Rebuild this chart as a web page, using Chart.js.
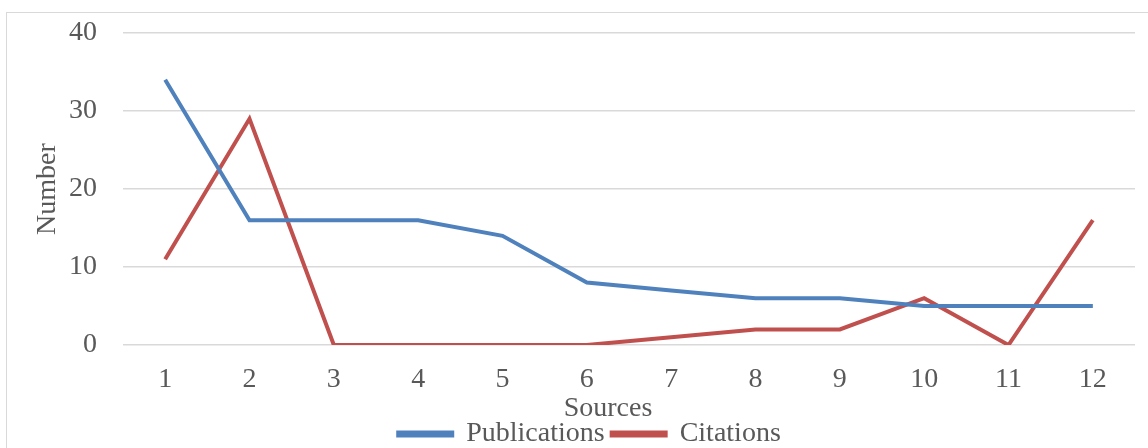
<!DOCTYPE html>
<html><head><meta charset="utf-8">
<script src="https://cdn.jsdelivr.net/npm/chart.js@4.4.1/dist/chart.umd.min.js"></script>
<style>
html,body{margin:0;padding:0;background:#fff;overflow:hidden;}
#frame{position:absolute;left:6px;top:12px;width:1160px;height:460px;border:1.5px solid #d9d9d9;box-sizing:border-box;}
#wrap{position:absolute;left:0;top:0;width:1148px;height:448px;}
</style></head>
<body>
<div id="frame"></div>
<div id="wrap"><canvas id="c"></canvas></div>
<script>
const categories = ['1','2','3','4','5','6','7','8','9','10','11','12'];
const publications = [34,16,16,16,14,8,7,6,6,5,5,5];
const citations = [11,29,0,0,0,0,1,2,2,6,0,16];
const yTicks = [0,10,20,30,40];

const font = {family:'"Liberation Serif", "Times New Roman", serif', size:28, lineHeight:1};
const txt = '#595959';
const tweaks = {
  id:'tweaks',
  afterLayout(chart){ if(chart.legend){ chart.legend.left += 17; chart.legend.right += 17; } },
  beforeDraw(chart){ chart.scales.x.right -= 42; },
  afterDraw(chart){ chart.scales.x.right += 42; }
};
new Chart(document.getElementById('c'), {
  type:'line',
  data:{labels:categories, datasets:[
    {label:'Publications', data:publications, borderColor:'#4F81BD', backgroundColor:'#4F81BD', borderWidth:4, pointRadius:0, tension:0, fill:false},
    {label:'Citations', data:citations, borderColor:'#C0504D', backgroundColor:'#C0504D', borderWidth:4, pointRadius:0, tension:0, fill:false}
  ]},
  plugins:[tweaks],
  options:{
    responsive:true, maintainAspectRatio:false, animation:false,
    layout:{padding:{left:10,right:13,top:8,bottom:-10}},
    plugins:{
      tooltip:{enabled:false},
      legend:{position:'bottom', labels:{font:font, color:txt, boxWidth:54, boxHeight:3, padding:7}}
    },
    scales:{
      x:{offset:true, grid:{display:false, drawTicks:false}, border:{display:false},
         afterFit:(s)=>{s.height -= 21;},
         ticks:{font:font, color:txt, padding:21, maxRotation:0},
         title:{display:true, text:'Sources', font:font, color:txt, padding:{top:1,bottom:-10}}},
      y:{min:0, max:40, grid:{color:'#d9d9d9', lineWidth:1.5, drawTicks:false}, border:{display:false},
         afterBuildTicks:(s)=>{s.ticks = yTicks.map(v=>({value:v}));},
         afterFit:(s)=>{s.width = 113; s.paddingTop = 33; s.paddingBottom = 0;},
         ticks:{font:font, color:txt, padding:26},
         title:{display:true, text:'Number', font:font, color:txt, padding:{top:24,bottom:0}}}
    }
  }
});
</script>
</body></html>
